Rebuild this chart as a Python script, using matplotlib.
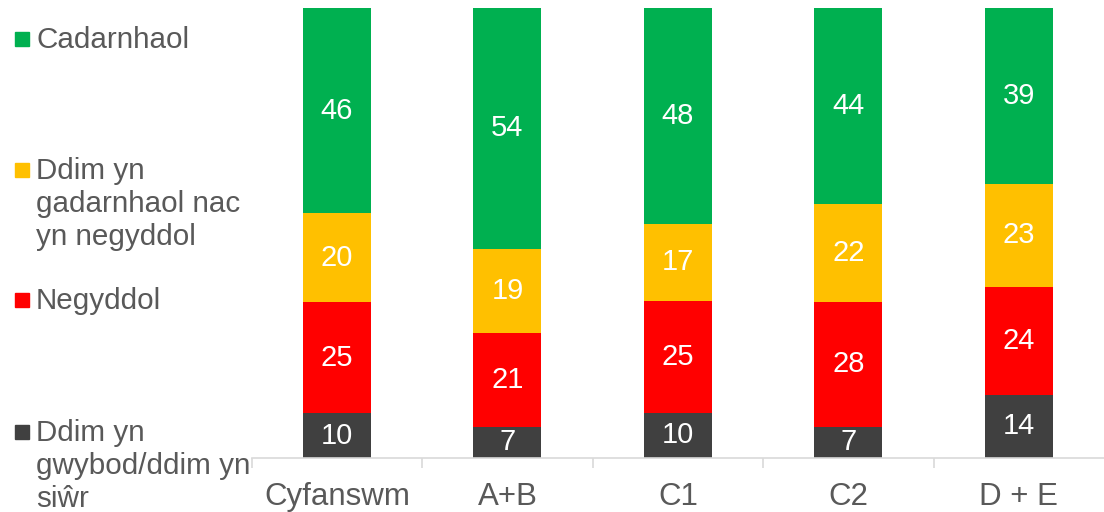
import matplotlib.pyplot as plt
from matplotlib.patches import Rectangle
import numpy as np

plt.rcParams["font.family"] = ["Liberation Sans", "DejaVu Sans"]

categories = ["Cyfanswm", "A+B", "C1", "C2", "D + E"]
series_names = [
    "Ddim yn\ngwybod/ddim yn\nsiŵr",
    "Negyddol",
    "Ddim yn\ngadarnhaol nac\nyn negyddol",
    "Cadarnhaol",
]
dont_know = [10, 7, 10, 7, 14]
negative = [25, 21, 25, 28, 24]
neutral = [20, 19, 17, 22, 23]
positive = [46, 54, 48, 44, 39]

colors = ["#404040", "#FF0000", "#FFC000", "#00B050"]
text_grey = "#595959"

values = np.array([dont_know, negative, neutral, positive], dtype=float)
shares = values / values.sum(axis=0) * 100  # 100% stacked

fig = plt.figure(figsize=(11.04, 5.12), dpi=100)
ax = fig.add_axes([0.228, 0.1055, 0.772, 0.8785])

x = np.arange(len(categories))
bottom = np.zeros(len(categories))
for share, raw, color in zip(shares, values, colors):
    ax.bar(x, share, bottom=bottom, width=0.4, color=color, linewidth=0)
    for xi, b, h, v in zip(x, bottom, share, raw):
        ax.text(xi, b + h / 2, f"{int(v)}", ha="center", va="center",
                color="white", fontsize=21)
    bottom += share

ax.set_xlim(-0.5, len(categories) - 0.5)
ax.set_ylim(0, 100)
ax.set_yticks([])
for side in ["left", "right", "top"]:
    ax.spines[side].set_visible(False)
ax.spines["bottom"].set_color("#D9D9D9")
ax.spines["bottom"].set_linewidth(1.2)
ax.set_xticks(x, categories)
ax.tick_params(axis="x", length=0, labelsize=22.5, labelcolor=text_grey, pad=17)
ax.set_xticks(np.arange(len(categories)) - 0.5, minor=True)
ax.tick_params(axis="x", which="minor", length=7, color="#D9D9D9", width=1.2)

# legend drawn by hand on the left, top entry first
legend_y = [39, 170, 300, 432]  # px from top, first line centre
for name, color, ypx in zip(series_names[::-1], colors[::-1], legend_y):
    yf = 1 - ypx / 512
    fig.patches.append(Rectangle((15 / 1104, yf - 7 / 512), 14 / 1104, 14 / 512,
                                 transform=fig.transFigure, color=color))
    fig.text(36 / 1104, yf + 13 / 512, name, ha="left", va="top",
             fontsize=21.3, color=text_grey, linespacing=1.22)

fig.savefig("out.png", dpi=100)
